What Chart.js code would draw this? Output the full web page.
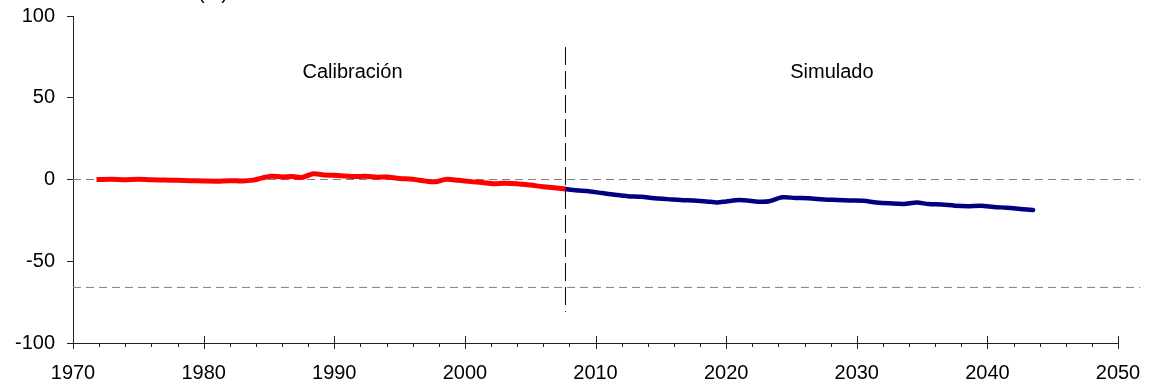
<!DOCTYPE html>
<html>
<head>
<meta charset="utf-8">
<script src="https://cdn.jsdelivr.net/npm/chart.js@4.4.1/dist/chart.umd.min.js"></script>
<style>
html,body{margin:0;padding:0;background:#fff;}
#wrap{width:1151px;height:389px;}
</style>
</head>
<body>
<div id="wrap"><canvas id="c" width="1151" height="389"></canvas></div>
<script>
// ---- data ----
const redYears   = [1971.8,1973,1974,1975,1976,1977,1978,1979,1980,1981,1982,1983,1983.8,1984.5,1985.2,1986,1986.8,1987.5,1988.4,1989.2,1990,1990.8,1991.6,1992.4,1993.3,1994,1995,1996,1997,1997.7,1998.6,1999.5,2000.5,2001.3,2002.2,2003,2004,2005,2006,2007.7];
const redLevels  = [0,0.1,-0.1,0.2,-0.2,-0.3,-0.5,-0.7,-0.9,-1.0,-0.7,-0.9,-0.4,1.0,2.0,1.6,1.8,1.2,3.5,2.8,2.6,2.2,1.8,2.0,1.4,1.5,0.6,0.2,-1.0,-1.4,0.1,-0.5,-1.3,-1.8,-2.6,-2.3,-2.6,-3.4,-4.4,-5.8];
const blueYears  = [2007.7,2008.5,2009.5,2010.5,2011.5,2012.5,2013.5,2014.5,2015.5,2016.5,2017.5,2018.5,2019.3,2020,2021,2021.8,2022.6,2023.3,2024.3,2025.3,2026.3,2027.5,2028.5,2029.5,2030.5,2031.5,2032.5,2033.6,2034.6,2035.5,2036.5,2037.5,2038.5,2039.5,2040.5,2041.5,2042.5,2043.5];
const blueLevels = [-5.8,-6.6,-7.2,-8.3,-9.3,-10.2,-10.6,-11.5,-12.0,-12.6,-12.9,-13.4,-14.0,-13.4,-12.6,-13.0,-13.6,-13.3,-10.9,-11.3,-11.5,-12.2,-12.5,-12.8,-13.0,-14.0,-14.6,-15.0,-14.1,-15.0,-15.3,-16.0,-16.3,-16.1,-16.8,-17.3,-18.0,-18.7];
const refLineYears = [1970, 2051.7];
const zeroLevel = 0;
const lowLevel = -66;
const dividerYear = 2007.7;
const dividerRange = [81, -81];
const xTickMajor = [1970,1980,1990,2000,2010,2020,2030,2040,2050];
const yTicks = [-100,-50,0,50,100];
const periodLabels = [
  {text:'Calibración', year:1991.4, level:65.4},
  {text:'Simulado',    year:2028.1, level:65.4}
];
const unitLabel = '(m)';

const FONT = '"Liberation Sans", Arial, sans-serif';

function pts(xs, ys){ return xs.map((x,i)=>({x:x, y:ys[i]})); }

const decor = {
  id:'decor',
  afterDraw(chart){
    const ctx = chart.ctx, xs = chart.scales.x, ys = chart.scales.y;
    const yAxis = ys.getPixelForValue(-100);
    ctx.save();
    ctx.strokeStyle = '#222';
    ctx.lineWidth = 1;
    // x tick marks: major cross, minor below
    for (let v = 1970; v <= 2050; v += 2) {
      const px = Math.round(xs.getPixelForValue(v)) + 0.5;
      const major = xTickMajor.includes(v);
      ctx.beginPath();
      ctx.moveTo(px, yAxis + (major ? -7 : 0));
      ctx.lineTo(px, yAxis + (major ? 6 : 4));
      ctx.stroke();
    }
    // period labels
    ctx.fillStyle = '#000';
    ctx.font = '20px ' + FONT;
    ctx.textAlign = 'center';
    ctx.textBaseline = 'middle';
    periodLabels.forEach(l => {
      ctx.fillText(l.text, xs.getPixelForValue(l.year), ys.getPixelForValue(l.level));
    });
    // clipped unit label at top
    ctx.textBaseline = 'alphabetic';
    ctx.fillText(unitLabel, 213, -1.5);
    ctx.restore();
  }
};

new Chart(document.getElementById('c'), {
  type:'line',
  data:{
    datasets:[
      {data: pts(refLineYears,[zeroLevel,zeroLevel]), borderColor:'#808080', borderWidth:1, borderDash:[8,5], pointRadius:0, clip:false, order:5},
      {data: pts(refLineYears,[lowLevel,lowLevel]), borderColor:'#808080', borderWidth:1, borderDash:[8,5], pointRadius:0, clip:false, order:5},
      {data: pts([dividerYear,dividerYear], dividerRange), borderColor:'#000', borderWidth:1, borderDash:[18,6], pointRadius:0, clip:false, order:4},
      {data: pts(blueYears, blueLevels), borderColor:'#000080', borderWidth:4.5, pointRadius:0, tension:0.3, borderCapStyle:'round', order:2},
      {data: pts(redYears, redLevels), borderColor:'#FF0000', borderWidth:5, pointRadius:0, tension:0.3, borderCapStyle:'butt', order:1}
    ]
  },
  options:{
    responsive:false,
    animation:false,
    devicePixelRatio:1,
    layout:{padding:{left:0, right:33, top:16, bottom:0}},
    plugins:{legend:{display:false}, tooltip:{enabled:false}},
    scales:{
      x:{
        type:'linear', min:1970, max:2050,
        afterBuildTicks(s){ s.ticks = xTickMajor.map(v=>({value:v})); },
        afterFit(s){ s.height = 46; s.paddingLeft = 0; s.paddingRight = 0; },
        grid:{display:true, drawOnChartArea:false, drawTicks:false},
        border:{display:true, color:'#222', width:1},
        ticks:{color:'#000', font:{family:FONT, size:20}, padding:18, maxRotation:0, autoSkip:false, callback:(v)=>String(v)}
      },
      y:{
        type:'linear', min:-100, max:100,
        afterBuildTicks(s){ s.ticks = yTicks.map(v=>({value:v})); },
        afterFit(s){ s.width = 73; s.paddingTop = 0; s.paddingBottom = 0; },
        grid:{display:true, drawOnChartArea:false, drawTicks:true, tickLength:6, color:'#222'},
        border:{display:true, color:'#222', width:1},
        ticks:{color:'#000', font:{family:FONT, size:20}, padding:12, callback:(v)=>String(v)}
      }
    }
  },
  plugins:[decor]
});
</script>
</body>
</html>
